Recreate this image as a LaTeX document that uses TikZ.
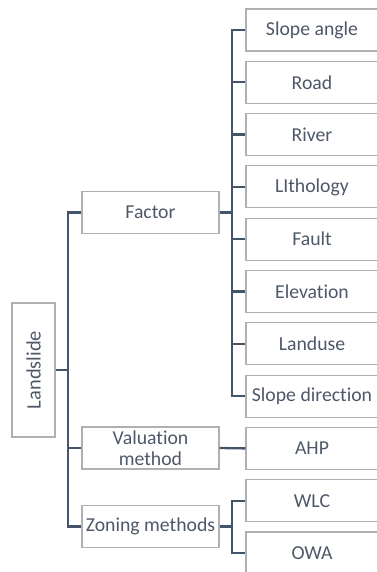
\documentclass[tikz,border=0pt]{standalone}
\usepackage{fontspec}
\setmainfont[Ligatures=NoCommon]{Carlito}
\definecolor{linec}{HTML}{44546A}
\definecolor{boxc}{HTML}{B0B0B0}
\definecolor{txtc}{HTML}{4E5869}
\begin{document}
\begin{tikzpicture}[x=1bp,y=-1bp,
  box/.style={draw=boxc,line width=1.1bp,fill=white,inner sep=0pt,text=txtc,
     font=\fontsize{19.8}{21}\selectfont,align=center},
  rbox/.style={box,minimum width=132bp,minimum height=42bp},
  mbox/.style={box,minimum width=137bp,minimum height=42bp},
  conn/.style={draw=linec,line width=2.3bp}]
\useasboundingbox (0,0) rectangle (376,572);
% left
\node[box,minimum width=43bp,minimum height=134bp] (L) at (33.5,370) {};
\node[text=txtc,font=\fontsize{20.5}{22}\selectfont,rotate=90] (Lt) at (33.5,370) {Landslide};
% middle
\node[mbox] (F) at (150.5,212.5) {Factor};
\node[mbox] (V) at (150.5,448) {Valuation\\method};
\node[mbox] (Z) at (150.5,526.5) {Zoning methods};
% right
\node[rbox] (r1) at (312,30) {Slope angle};
\node[rbox] (r2) at (312,82.3) {Road};
\node[rbox] (r3) at (312,134.6) {River};
\node[rbox] (r4) at (312,186.9) {LIthology};
\node[rbox] (r5) at (312,239.2) {Fault};
\node[rbox] (r6) at (312,291.5) {Elevation};
\node[rbox] (r7) at (312,343.8) {Landuse};
\node[rbox] (r8) at (312,396.1) {Slope direction};
\node[rbox] (r9) at (312,448.4) {AHP};
\node[rbox] (r10) at (312,500.7) {WLC};
\node[rbox] (r11) at (312,553) {OWA};
% coordinates
\coordinate (tx) at (68,0);
\coordinate (bx) at (232,0);
% trunk
\draw[conn] (F.west) -- (F.west -| tx) -- (Z.west -| tx) -- (Z.west);
\draw[conn] (V.west) -- (V.west -| tx);
\draw[conn] (L.east) -- (L.east -| tx);
% factor bracket
\draw[conn] (r1.west) -- (r1.west -| bx) -- (r8.west -| bx) -- (r8.west);
\foreach \i in {2,...,7}{\draw[conn] (r\i.west) -- (r\i.west -| bx);}
\draw[conn] (F.east) -- (F.east -| bx);
% valuation
\draw[conn] (V.east) -- (r9.west);
% zoning bracket
\draw[conn] (r10.west) -- (r10.west -| bx) -- (r11.west -| bx) -- (r11.west);
\draw[conn] (Z.east) -- (Z.east -| bx);
\end{tikzpicture}
\end{document}
